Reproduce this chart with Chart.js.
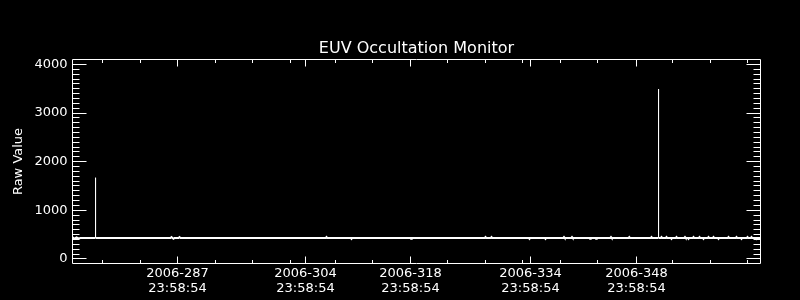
<!DOCTYPE html>
<html>
<head>
<meta charset="utf-8">
<style>
  html, body { margin: 0; padding: 0; background: #000; }
  #wrap { width: 800px; height: 300px; background: #000; }
  canvas { display: block; background: #000; }
</style>
<script src="https://cdn.jsdelivr.net/npm/chart.js@4"></script>
</head>
<body>
<div id="wrap"><canvas id="c" width="800" height="300"></canvas></div>
<script>
// ---- text ----
const chartTitle = 'EUV Occultation Monitor';
const yAxisTitle = 'Raw Value';

// ---- x axis (sample index) ticks ----
const xTickIndex = [105, 233, 338, 458, 564];
const xTickDate  = ['2006-287', '2006-304', '2006-318', '2006-334', '2006-348'];
const xTickTime  = ['23:58:54', '23:58:54', '23:58:54', '23:58:54', '23:58:54'];
const xMinorIndex = [30, 68, 143, 180, 218, 263, 300, 375, 413, 450, 488, 525, 600, 638, 675];
const xRange = [0, 688];

// ---- y axis ticks ----
const yTickValues = [0, 1000, 2000, 3000, 4000];
const yMinorStep = 100;
const yRange = [-95, 4103];

// ---- series ----
const sampleIndex = [
  0, 2, 4, 6, 8,
  22.9, 23, 23.1,
  98, 99, 100, 101, 102, 106, 107, 108,
  253.3, 254, 254.7,
  278.3, 279, 279.7,
  337.8, 338.5, 339.2,
  412.3, 413, 413.7,
  418.3, 419, 419.7,
  456.3, 457, 457.7,
  472.3, 473, 473.7,
  490.8, 491.5, 492.2,
  498.8, 499.5, 500.2,
  516.8, 517.5, 518.2,
  522.8, 523.5, 524.2,
  537.8, 538.5, 539.2,
  556.1, 556.8, 557.5,
  578.3, 579, 579.7,
  585.9, 586, 586.1,
  588.3, 589, 589.7,
  593.3, 594, 594.7,
  598.3, 599, 599.7,
  603.3, 604, 604.7,
  611.8, 612.5, 613.2,
  615.3, 616, 616.7,
  620.3, 621, 621.7,
  626.3, 627, 627.7,
  630.3, 631, 631.7,
  635.3, 636, 636.7,
  640.3, 641, 641.7,
  645.3, 646, 646.7,
  655.3, 656, 656.7,
  663.3, 664, 664.7,
  668.3, 669, 669.7,
  674.3, 675, 675.7,
  678.3, 679, 679.7,
  683.3, 684, 684.7,
  688
];
const rawValue = [
  445, 418, 442, 420, 430,
  430, 1670, 430,
  430, 448, 430, 414, 430, 430, 448, 430,
  430, 448, 430,
  430, 412, 430,
  430, 412, 430,
  430, 448, 430,
  430, 448, 430,
  430, 412, 430,
  430, 412, 430,
  430, 448, 430,
  430, 448, 430,
  430, 412, 430,
  430, 412, 430,
  430, 448, 430,
  430, 448, 430,
  430, 448, 430,
  430, 3495, 430,
  430, 448, 430,
  430, 448, 430,
  430, 412, 430,
  430, 448, 430,
  430, 448, 430,
  430, 412, 430,
  430, 448, 430,
  430, 448, 430,
  430, 412, 430,
  430, 448, 430,
  430, 448, 430,
  430, 412, 430,
  430, 448, 430,
  430, 448, 430,
  430, 412, 430,
  430, 448, 430,
  430, 448, 430,
  430, 412, 430,
  430
];

const FONT = "'DejaVu Sans', 'Liberation Sans', sans-serif";
const WHITE = '#ffffff';

// Frame + inward IDL-style tick marks drawn through the chart's scales
const idlFrame = {
  id: 'idlFrame',
  afterDatasetsDraw(chart) {
    const { ctx, chartArea: a } = chart;
    const xs = chart.scales.x, ys = chart.scales.y;
    const crisp = p => Math.round(p - 0.5) + 0.5;
    ctx.save();
    ctx.strokeStyle = WHITE;
    ctx.lineWidth = 1;
    ctx.beginPath();
    ctx.rect(a.left, a.top, a.right - a.left, a.bottom - a.top);
    ctx.stroke();
    ctx.beginPath();
    const xTick = (v, len) => {
      const px = crisp(xs.getPixelForValue(v));
      ctx.moveTo(px, a.bottom); ctx.lineTo(px, a.bottom - len);
      ctx.moveTo(px, a.top); ctx.lineTo(px, a.top + len);
    };
    xTickIndex.forEach(v => xTick(v, 7));
    xMinorIndex.forEach(v => xTick(v, 3.5));
    const yTick = (v, len) => {
      const py = crisp(ys.getPixelForValue(v));
      ctx.moveTo(a.left, py); ctx.lineTo(a.left + len, py);
      ctx.moveTo(a.right, py); ctx.lineTo(a.right - len, py);
    };
    for (let v = yTickValues[0]; v <= yTickValues[yTickValues.length - 1]; v += yMinorStep) {
      yTick(v, yTickValues.includes(v) ? 14 : 7);
    }
    ctx.stroke();
    ctx.restore();
  }
};

new Chart(document.getElementById('c'), {
  type: 'line',
  data: {
    datasets: [{
      data: sampleIndex.map((x, i) => ({ x: x, y: rawValue[i] })),
      borderColor: WHITE,
      borderWidth: 2,
      pointRadius: 0,
      tension: 0,
      fill: false,
      segment: {
        borderWidth: c => (c.p0.parsed.y > 700 || c.p1.parsed.y > 700) ? 1 : 2
      }
    }]
  },
  options: {
    responsive: false,
    animation: false,
    devicePixelRatio: 1,
    layout: { padding: { left: 0, right: 39.5, top: 0, bottom: 0 } },
    plugins: {
      legend: { display: false },
      tooltip: { enabled: false },
      title: {
        display: true,
        text: chartTitle,
        color: WHITE,
        fullSize: false,
        font: { family: FONT, size: 16, weight: 'normal', lineHeight: 1.2 },
        padding: { top: 38.9, bottom: 1.4 }
      }
    },
    scales: {
      x: {
        type: 'linear',
        min: xRange[0],
        max: xRange[1],
        grid: { display: false, drawTicks: false },
        border: { display: false },
        afterBuildTicks: s => { s.ticks = xTickIndex.map(v => ({ value: v })); },
        afterFit: s => { s.height = 36.5; },
        ticks: {
          autoSkip: false,
          maxRotation: 0,
          color: WHITE,
          padding: 2,
          font: { family: FONT, size: 13, lineHeight: 1.2 },
          callback: (v, i) => [xTickDate[i], xTickTime[i]]
        }
      },
      y: {
        type: 'linear',
        min: yRange[0],
        max: yRange[1],
        grid: { display: false, drawTicks: false },
        border: { display: false },
        afterBuildTicks: s => { s.ticks = yTickValues.map(v => ({ value: v })); },
        afterFit: s => { s.width = 72.5; },
        ticks: {
          color: WHITE,
          padding: 5,
          font: { family: FONT, size: 13 },
          callback: v => String(v)
        },
        title: {
          display: true,
          text: yAxisTitle,
          color: WHITE,
          font: { family: FONT, size: 13, lineHeight: 1.2 },
          padding: { top: 11, bottom: 0 }
        }
      }
    }
  },
  plugins: [idlFrame]
});
</script>
</body>
</html>
